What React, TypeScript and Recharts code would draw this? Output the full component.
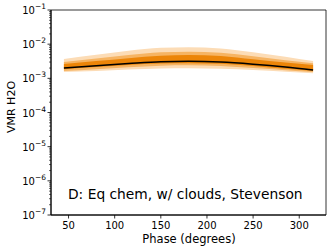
import { ComposedChart, Area, Line, XAxis, YAxis, ReferenceArea, Customized } from 'recharts'

const PHASE = [45, 80, 115, 150, 180, 215, 250, 285, 315]
const VMR_MEDIAN = [2.0e-3, 2.35e-3, 2.7e-3, 3.05e-3, 3.15e-3, 3.0e-3, 2.6e-3, 2.15e-3, 1.75e-3]
const OUTER_HI = [3.7e-3, 4.9e-3, 6.4e-3, 7.8e-3, 8.1e-3, 7.5e-3, 5.8e-3, 4.3e-3, 3.2e-3]
const OUTER_LO = [1.53e-3, 1.65e-3, 1.8e-3, 1.93e-3, 1.97e-3, 1.9e-3, 1.75e-3, 1.55e-3, 1.4e-3]
const MID_HI = [3.0e-3, 3.8e-3, 4.8e-3, 5.8e-3, 6.0e-3, 5.6e-3, 4.4e-3, 3.4e-3, 2.75e-3]
const MID_LO = [1.64e-3, 1.85e-3, 2.1e-3, 2.35e-3, 2.4e-3, 2.3e-3, 2.0e-3, 1.72e-3, 1.53e-3]
const DARK_HI = [2.63e-3, 3.2e-3, 3.9e-3, 4.6e-3, 4.8e-3, 4.5e-3, 3.6e-3, 2.9e-3, 2.45e-3]
const DARK_LO = [1.84e-3, 2.15e-3, 2.45e-3, 2.7e-3, 2.75e-3, 2.65e-3, 2.3e-3, 1.9e-3, 1.64e-3]

const X_TICKS = [50, 100, 150, 200, 250, 300]
const DECADES = [-7, -6, -5, -4, -3, -2, -1]
const Y_TICKS: number[] = []
DECADES.forEach((e) => {
  for (let m = 1; m <= 9; m++) {
    if (e === -1 && m > 1) break
    Y_TICKS.push(m * Math.pow(10, e))
  }
})

const data = PHASE.map((p, i) => ({
  phase: p,
  median: VMR_MEDIAN[i],
  outer: [OUTER_LO[i], OUTER_HI[i]],
  mid: [MID_LO[i], MID_HI[i]],
  dark: [DARK_LO[i], DARK_HI[i]],
}))

const FONT = '"DejaVu Sans", sans-serif'

function YTick(props: any) {
  const { x, y, payload } = props
  const v = payload.value
  const e = Math.round(Math.log10(v))
  const major = Math.abs(v - Math.pow(10, e)) / v < 1e-6
  return (
    <g>
      <line x1={x} x2={x - (major ? 3.5 : 2)} y1={y} y2={y} stroke="#000" strokeWidth={major ? 0.8 : 0.6} />
      {major && (
        <text x={x - 5} y={y + 4} textAnchor="end" fontSize={10} fontFamily={FONT} fill="#000">
          <tspan>10</tspan>
          <tspan dy={-5} fontSize={7.5}>{'\u2212' + Math.abs(e)}</tspan>
        </text>
      )}
    </g>
  )
}

function XTick(props: any) {
  const { x, y, payload } = props
  return (
    <g>
      <line x1={x} x2={x} y1={y} y2={y + 3.5} stroke="#000" strokeWidth={0.8} />
      <text x={x} y={y + 14} textAnchor="middle" fontSize={10} fontFamily={FONT} fill="#000">{payload.value}</text>
    </g>
  )
}

function Labels() {
  return (
    <g fontFamily={FONT} fill="#000">
      <text x={189} y={243} textAnchor="middle" fontSize={11.5}>Phase (degrees)</text>
      <text x={0} y={0} transform="translate(15,107) rotate(-90)" textAnchor="middle" fontSize={11}>VMR H2O</text>
      <text x={68} y={199} fontSize={13.8}>D: Eq chem, w/ clouds, Stevenson</text>
    </g>
  )
}

export default function App() {
  return (
    <div style={{ width: 332, height: 252 }}>
      <style>{'body{margin:0}'}</style>
      <ComposedChart width={332} height={252} data={data} margin={{ top: 10, right: 6, left: 0, bottom: 0 }}>
        <XAxis dataKey="phase" type="number" domain={[31, 329]} ticks={X_TICKS} tick={<XTick />}
          tickLine={false} tickSize={0} tickMargin={0} height={37} axisLine={{ stroke: '#000' }} allowDataOverflow />
        <YAxis type="number" scale="log" domain={[1e-7, 1e-1]} ticks={Y_TICKS} tick={<YTick />} interval={0}
          tickLine={false} tickSize={0} tickMargin={0} width={51} axisLine={{ stroke: '#000' }} allowDataOverflow />
        <ReferenceArea x1={31} x2={329} y1={1e-7} y2={1e-1} fill="none" stroke="#000" strokeWidth={0.8} />
        <Area type="monotone" dataKey="outer" stroke="none" fill="#fcdcb6" fillOpacity={1} isAnimationActive={false} />
        <Area type="monotone" dataKey="mid" stroke="none" fill="#f6b463" fillOpacity={1} isAnimationActive={false} />
        <Area type="monotone" dataKey="dark" stroke="none" fill="#ec8508" fillOpacity={1} isAnimationActive={false} />
        <Line type="monotone" dataKey="median" stroke="#000" strokeWidth={1.5} dot={false} isAnimationActive={false} />
        <Customized component={Labels} />
      </ComposedChart>
    </div>
  )
}
